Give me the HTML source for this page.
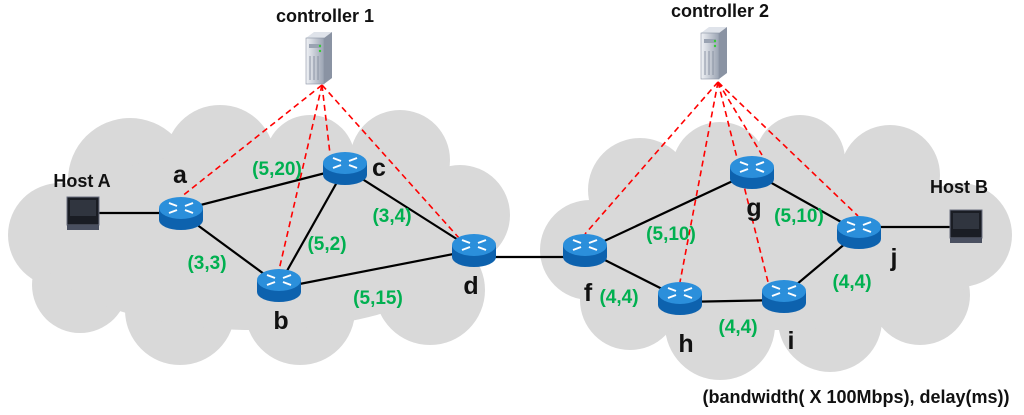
<!DOCTYPE html>
<html><head><style>
html,body{margin:0;padding:0;background:#fff;}
svg{display:block;font-family:"Liberation Sans",Arial,sans-serif;font-weight:bold;}
.g{fill:#00b050;font-size:19px;}
.k{fill:#111;font-size:25px;}
.h{fill:#111;font-size:18px;}
</style></head><body>
<svg width="1024" height="415" viewBox="0 0 1024 415" xmlns="http://www.w3.org/2000/svg">
<defs>
<linearGradient id="srv" x1="0" x2="1"><stop offset="0" stop-color="#f0f2f6"/><stop offset="1" stop-color="#9aa3b2"/></linearGradient>
<g id="r">
<path d="M-22,-5 v12 a22,10 0 0 0 44,0 v-12 z" fill="#0d62ae"/>
<ellipse cx="0" cy="-5" rx="22" ry="11" fill="#2b8fdb"/>
<g stroke="#fff" stroke-width="2">
<line x1="-12" y1="-10" x2="-4" y2="-7"/><line x1="12" y1="-10" x2="4" y2="-7"/>
<line x1="-12" y1="0" x2="-4" y2="-3"/><line x1="12" y1="0" x2="4" y2="-3"/>
</g>
</g>
<g id="mon">
<rect x="0" y="0" width="32" height="28" fill="#1a1d24" stroke="#6a7080"/>
<rect x="3" y="3" width="26" height="16" fill="#30353f"/>
<rect x="0" y="28" width="32" height="5" fill="#4a5060"/>
</g>
<g id="srvr">
<path d="M-12,-20 l8,-6 h18 l-8,6 z" fill="#dfe3ea"/>
<path d="M6,-20 l8,-6 v46 l-8,6 z" fill="#8a93a3"/>
<rect x="-12" y="-20" width="18" height="46" fill="url(#srv)" stroke="#8a93a3" stroke-width="0.6"/>
<rect x="-9" y="-14" width="12" height="4" fill="#9aa3b2"/>
<circle cx="2" cy="-12" r="1.2" fill="#3c3"/><circle cx="2" cy="-7" r="1.2" fill="#3c3"/>
<g stroke="#8a93a3" stroke-width="1"><line x1="-8" y1="-2" x2="-8" y2="22"/><line x1="-4" y1="-2" x2="-4" y2="22"/><line x1="0" y1="-2" x2="0" y2="22"/></g>
</g>
</defs>
<!-- left cloud -->
<g fill="#d9d9d9">
<circle cx="60" cy="235" r="52"/><circle cx="130" cy="180" r="62"/><circle cx="220" cy="160" r="55"/><circle cx="310" cy="160" r="45"/><circle cx="400" cy="160" r="50"/><circle cx="460" cy="215" r="50"/><circle cx="430" cy="290" r="55"/><circle cx="300" cy="310" r="55"/><circle cx="180" cy="310" r="55"/><circle cx="80" cy="285" r="48"/>
<ellipse cx="255" cy="240" rx="220" ry="90"/>
</g>
<!-- right cloud -->
<g fill="#d9d9d9">
<circle cx="590" cy="250" r="50"/><circle cx="640" cy="190" r="52"/><circle cx="720" cy="170" r="48"/><circle cx="800" cy="160" r="45"/><circle cx="890" cy="175" r="50"/><circle cx="960" cy="235" r="52"/><circle cx="920" cy="295" r="50"/><circle cx="830" cy="320" r="52"/><circle cx="720" cy="325" r="55"/><circle cx="630" cy="300" r="50"/>
<ellipse cx="780" cy="245" rx="215" ry="85"/>
</g>
<!-- links -->
<g stroke="#000" stroke-width="2.2">
<line x1="99" y1="213" x2="181" y2="213"/>
<line x1="181" y1="210" x2="345" y2="168"/>
<line x1="181" y1="213" x2="279" y2="285"/>
<line x1="279" y1="285" x2="345" y2="168"/>
<line x1="345" y1="168" x2="474" y2="250"/>
<line x1="279" y1="288" x2="474" y2="250"/>
<line x1="474" y1="257" x2="585" y2="257"/>
<line x1="585" y1="250" x2="752" y2="172"/>
<line x1="585" y1="250" x2="680" y2="298"/>
<line x1="680" y1="302" x2="784" y2="300"/>
<line x1="784" y1="295" x2="859" y2="232"/>
<line x1="752" y1="172" x2="859" y2="232"/>
<line x1="859" y1="227" x2="950" y2="227"/>
</g>
<g stroke="#ff0000" stroke-width="1.6" stroke-dasharray="6,4">
<line x1="322" y1="85" x2="181" y2="197"/>
<line x1="322" y1="85" x2="279" y2="270"/>
<line x1="322" y1="85" x2="330" y2="154"/>
<line x1="322" y1="85" x2="459" y2="238"/>
<line x1="718" y1="82" x2="585" y2="234"/>
<line x1="718" y1="82" x2="680" y2="282"/>
<line x1="718" y1="82" x2="762" y2="155"/>
<line x1="718" y1="82" x2="768" y2="282"/>
<line x1="718" y1="82" x2="858" y2="216"/>
</g>
<use href="#srvr" x="318" y="58"/>
<use href="#srvr" x="713" y="53"/>
<use href="#r" x="181" y="213"/>
<use href="#r" x="279" y="285"/>
<use href="#r" x="345" y="168"/>
<use href="#r" x="474" y="250"/>
<use href="#r" x="585" y="250"/>
<use href="#r" x="752" y="172"/>
<use href="#r" x="680" y="298"/>
<use href="#r" x="784" y="296"/>
<use href="#r" x="859" y="232"/>
<use href="#mon" x="67" y="197"/>
<use href="#mon" x="950" y="210"/>
<text x="325" y="22" class="h" text-anchor="middle" font-size="16">controller 1</text>
<text x="720" y="17" class="h" text-anchor="middle" font-size="16">controller 2</text>
<text x="82" y="187" class="h" text-anchor="middle">Host A</text>
<text x="959" y="193" class="h" text-anchor="middle">Host B</text>
<text x="180" y="183" class="k" text-anchor="middle">a</text>
<text x="281" y="329" class="k" text-anchor="middle">b</text>
<text x="379" y="176" class="k" text-anchor="middle">c</text>
<text x="471" y="294" class="k" text-anchor="middle">d</text>
<text x="588" y="301" class="k" text-anchor="middle">f</text>
<text x="754" y="216" class="k" text-anchor="middle">g</text>
<text x="686" y="352" class="k" text-anchor="middle">h</text>
<text x="791" y="349" class="k" text-anchor="middle">i</text>
<text x="894" y="266" class="k" text-anchor="middle">j</text>
<text x="277" y="175" class="g" text-anchor="middle">(5,20)</text>
<text x="207" y="269" class="g" text-anchor="middle">(3,3)</text>
<text x="327" y="250" class="g" text-anchor="middle">(5,2)</text>
<text x="392" y="222" class="g" text-anchor="middle">(3,4)</text>
<text x="378" y="304" class="g" text-anchor="middle">(5,15)</text>
<text x="671" y="240" class="g" text-anchor="middle">(5,10)</text>
<text x="799" y="222" class="g" text-anchor="middle">(5,10)</text>
<text x="619" y="303" class="g" text-anchor="middle">(4,4)</text>
<text x="738" y="333" class="g" text-anchor="middle">(4,4)</text>
<text x="852" y="288" class="g" text-anchor="middle">(4,4)</text>
<text x="856" y="403" class="h" text-anchor="middle">(bandwidth( X 100Mbps), delay(ms))</text>
</svg>
</body></html>
